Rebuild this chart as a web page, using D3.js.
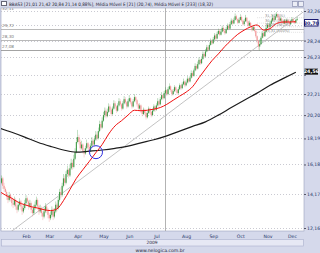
<!DOCTYPE html>
<html>
<head>
<meta charset="utf-8">
<script src="https://cdn.jsdelivr.net/npm/d3@7"></script>
<style>
  body { margin: 0; background: #d5d9eb; }
  svg { display: block; font-family: "DejaVu Sans", sans-serif; }
</style>
</head>
<body>
<svg id="chart" width="320" height="253"></svg>
<script>
// daily closes, highs and lows, Jan 2009 .. Dec 2009 (trading day index)
const closes = [
  14.6, 14.9, 15.2, 14.7, 14.5, 14.3, 14.0, 13.8, 14.1, 13.9, 13.6, 13.5, 13.8, 13.4, 13.2, 13.5, 13.7, 13.4, 13.1, 13.3,
  13.6, 13.9, 13.7, 13.4, 13.6, 13.2, 13.0, 13.3, 13.5, 13.8, 13.4, 13.1, 13.3, 13.0, 12.8, 13.1, 13.4, 13.2, 12.9, 12.7,
  12.9, 13.2, 12.8, 13.1, 13.5, 13.3, 13.8, 14.3, 14.1, 14.7, 15.2, 14.9, 15.5, 15.8, 15.4, 15.9, 16.3, 16.0, 16.6, 17.1,
  17.9, 18.3, 17.9, 17.4, 17.7, 17.2, 17.0, 17.4, 17.8, 17.5, 17.2, 17.6, 18.0, 17.7, 18.1, 18.5, 18.2, 18.8, 19.4, 19.1,
  19.7, 20.2, 20.6, 20.1, 20.5, 21.0, 20.7, 20.3, 20.8, 21.3, 21.0, 20.6, 21.1, 21.5, 21.2, 20.8, 21.3, 21.7, 21.4, 21.0,
  21.5, 21.8, 21.4, 21.0, 21.5, 21.9, 21.6, 21.2, 20.8, 21.1, 20.6, 20.3, 20.7, 20.4, 20.0, 20.4, 20.8, 20.5, 20.2, 20.6,
  21.0, 20.7, 21.1, 21.5, 21.2, 21.7, 22.1, 21.8, 22.3, 22.6, 22.2, 22.7, 23.0, 22.6, 22.2, 22.5, 22.9, 22.6, 22.3, 22.7,
  23.1, 22.8, 23.2, 23.5, 23.1, 23.4, 23.8, 23.5, 23.9, 24.4, 24.1, 24.7, 25.2, 24.9, 25.4, 25.9, 25.5, 26.0, 26.6, 26.3,
  26.9, 27.4, 27.1, 27.7, 28.2, 27.9, 28.4, 28.9, 28.5, 29.1, 29.5, 29.0, 29.4, 29.9, 29.5, 29.2, 29.7, 30.2, 29.8, 30.4,
  30.9, 30.5, 31.0, 31.5, 31.1, 30.6, 31.0, 31.4, 30.9, 30.4, 30.8, 31.3, 30.8, 30.2, 30.6, 30.1, 29.6, 30.0, 29.5, 28.8,
  28.2, 27.5, 27.8, 28.6, 29.2, 28.8, 29.4, 29.9, 30.3, 30.0, 30.5, 30.9, 31.3, 31.0, 31.5, 31.8, 31.4, 30.9, 31.2, 30.8,
  30.5, 30.9, 30.6, 31.0, 30.7, 30.4, 30.8, 31.1, 30.8, 30.6, 31.01, 31.14
];
const highs = [
  14.8, 15.1, 15.4, 15.3, 14.9, 14.6, 14.4, 14.1, 14.3, 14.2, 14.0, 13.8, 14.0, 13.9, 13.5, 13.7, 13.9, 13.8, 13.5, 13.5,
  13.8, 14.1, 14.0, 13.8, 13.8, 13.7, 13.3, 13.5, 13.7, 14.0, 13.9, 13.5, 13.5, 13.4, 13.1, 13.3, 13.6, 13.5, 13.3, 13.0,
  13.1, 13.4, 13.3, 13.3, 13.7, 13.6, 14.0, 14.5, 14.6, 14.9, 15.5, 15.4, 15.7, 16.1, 15.9, 16.2, 16.6, 16.5, 16.9, 17.4,
  18.3, 18.9, 18.5, 18.1, 18.0, 17.8, 17.4, 17.6, 18.1, 17.9, 17.7, 17.8, 18.3, 18.2, 18.4, 18.8, 18.7, 19.1, 19.7, 19.6,
  20.0, 20.5, 20.9, 20.8, 20.8, 21.3, 21.2, 20.9, 21.0, 21.6, 21.5, 21.1, 21.3, 21.8, 21.7, 21.3, 21.5, 22.0, 21.9, 21.5,
  21.7, 22.1, 21.9, 21.5, 21.7, 22.2, 22.0, 21.7, 21.3, 21.3, 21.2, 20.7, 20.9, 20.8, 20.5, 20.6, 21.0, 20.9, 20.6, 20.8,
  21.2, 21.1, 21.3, 21.8, 21.6, 21.9, 22.4, 22.2, 22.5, 22.9, 22.7, 22.9, 23.3, 23.1, 22.7, 22.7, 23.1, 23.0, 22.7, 22.9,
  23.3, 23.2, 23.4, 23.8, 23.6, 23.6, 24.1, 23.9, 24.1, 24.7, 24.6, 24.9, 25.5, 25.4, 25.7, 26.2, 26.0, 26.3, 26.9, 26.8,
  27.2, 27.7, 27.6, 28.0, 28.5, 28.4, 28.7, 29.2, 29.1, 29.4, 29.8, 29.7, 29.7, 30.2, 30.1, 29.7, 30.0, 30.5, 30.4, 30.7,
  31.2, 31.1, 31.3, 31.9, 31.7, 31.2, 31.3, 31.8, 31.6, 31.0, 31.1, 31.7, 31.4, 30.9, 30.9, 30.7, 30.2, 30.3, 30.1, 29.6,
  28.9, 28.3, 28.4, 28.8, 29.5, 29.4, 29.6, 30.2, 30.6, 30.5, 30.8, 31.2, 31.7, 31.5, 31.9, 32.1, 31.9, 31.5, 31.5, 31.3,
  31.0, 31.1, 31.0, 31.2, 31.1, 30.8, 31.0, 31.4, 31.2, 30.9, 31.1, 31.42
];
const lows = [
  14.3, 14.5, 14.8, 14.5, 14.3, 14.1, 13.8, 13.6, 13.7, 13.7, 13.4, 13.3, 13.4, 13.2, 13.0, 13.1, 13.4, 13.2, 12.9, 13.0,
  13.2, 13.5, 13.5, 13.2, 13.3, 13.0, 12.8, 12.9, 13.2, 13.4, 13.2, 12.9, 13.0, 12.8, 12.6, 12.7, 13.0, 13.0, 12.7, 12.5,
  12.6, 12.8, 12.6, 12.7, 13.0, 13.1, 13.2, 13.7, 13.9, 14.0, 14.6, 14.7, 14.8, 15.3, 15.2, 15.3, 15.8, 15.8, 15.9, 16.5,
  17.0, 17.8, 17.7, 17.2, 17.3, 17.0, 16.7, 16.9, 17.3, 17.3, 17.0, 17.1, 17.5, 17.5, 17.6, 18.0, 18.0, 18.1, 18.7, 18.9,
  19.0, 19.6, 20.0, 19.9, 20.0, 20.4, 20.5, 20.1, 20.2, 20.7, 20.8, 20.4, 20.5, 21.0, 21.0, 20.6, 20.7, 21.2, 21.2, 20.8,
  20.9, 21.4, 21.2, 20.8, 20.9, 21.4, 21.4, 21.0, 20.6, 20.7, 20.4, 20.1, 20.2, 20.2, 19.8, 19.9, 20.3, 20.3, 20.0, 20.1,
  20.5, 20.5, 20.6, 21.0, 21.0, 21.1, 21.6, 21.6, 21.7, 22.2, 22.0, 22.1, 22.6, 22.4, 22.0, 22.1, 22.4, 22.4, 22.1, 22.2,
  22.6, 22.6, 22.7, 23.1, 22.9, 23.0, 23.3, 23.3, 23.4, 23.8, 23.9, 24.0, 24.6, 24.7, 24.8, 25.3, 25.3, 25.4, 25.9, 26.1,
  26.2, 26.8, 26.9, 27.0, 27.6, 27.7, 27.8, 28.3, 28.3, 28.4, 29.0, 28.8, 28.9, 29.3, 29.3, 29.0, 29.1, 29.6, 29.6, 29.7,
  30.3, 30.3, 30.4, 30.9, 30.9, 30.4, 30.5, 30.9, 30.7, 30.2, 30.3, 30.7, 30.6, 30.0, 30.1, 29.9, 29.4, 29.5, 29.3, 28.6,
  27.9, 27.1, 27.0, 27.7, 28.5, 28.6, 28.7, 29.3, 29.8, 29.8, 29.9, 30.4, 30.8, 30.8, 30.9, 31.3, 31.2, 30.7, 30.8, 30.6,
  30.3, 30.4, 30.4, 30.5, 30.5, 30.2, 30.3, 30.7, 30.6, 30.4, 30.5, 30.84
];

// EMA 21 read every 5 trading days, EMA 233 read every 10
const ema21Idx = d3.range(0, 231, 5);
const ema21 = [14.35, 14.1, 13.9, 13.65, 13.5, 13.38, 13.3, 13.2, 13.15, 13.25, 13.75, 14.45, 15.2, 15.8, 16.4, 17.05,
  17.7, 18.55, 19.25, 19.7, 20.2, 20.65, 20.6, 20.65, 20.75, 20.9, 21.2, 21.6, 22.0, 22.4, 22.95, 23.9, 24.85, 25.8,
  26.6, 27.5, 28.3, 29.05, 29.6, 30.05, 30.3, 29.6, 29.8, 30.5, 30.7, 30.7, 30.74];
const ema233Idx = d3.range(0, 231, 10);
const ema233 = [19.08, 18.7, 18.3, 17.88, 17.55, 17.27, 17.1, 17.18, 17.27, 17.4, 17.57, 17.83, 18.08, 18.4, 18.8,
  19.2, 19.6, 20.2, 20.9, 21.6, 22.3, 23.1, 23.8, 24.5];

const months = ["Feb", "Mar", "Apr", "May", "Jun", "Jul", "Aug", "Sep", "Oct", "Nov", "Dec"];
const monthStart = [21, 39, 61, 81, 101, 122, 145, 166, 187, 208, 227];
const yTicks = [12.16, 14.17, 16.18, 18.19, 20.20, 22.21, 24.22, 26.23, 28.24, 30.25, 32.26];
const hiddenTicks = [24.22, 30.25]; // covered by the value boxes
const fibLevels = [32.11, 29.72, 28.30, 27.08];
const fibShort = [["31,30 (0%)", 31.30], ["30,55 (23,6%)", 30.55], ["30,09 (38,2%)", 30.05], ["29,31 (100%)", 29.31]];
const trendLine = [[8.6, 11.92], [235.6, 32.1]];
const crossMark = [75.2, 17.1];
const cursorIdx = 129;

const fmt = (v) => v.toFixed(2).replace(".", ",");

const svg = d3.select("#chart");
const plot = { left: 1, right: 304, top: 8, bottom: 231 };

const x = d3.scaleLinear().domain([0, 235]).range([-1.1, 302.3]);
const y = d3.scaleLog().domain([12.16, 32.26]).range([228, 11]);

// header
svg.append("rect").attr("x", 1.5).attr("y", 1.5).attr("width", 5).attr("height", 4)
  .attr("fill", "#fff").attr("stroke", "#667");
svg.append("text").attr("x", 9).attr("y", 5.6).attr("font-size", 4.6).attr("fill", "#223")
  .attr("textLength", 204).attr("lengthAdjust", "spacingAndGlyphs")
  .text("BBAS3 [21,01  21,42  20,84  21,14  0,88%], Média Móvel E [21] (20,74), Média Móvel E [233] (18,32)");
[292, 298].forEach((bx) => {
  svg.append("rect").attr("x", bx + 0.5).attr("y", 1.5).attr("width", 5).attr("height", 5)
    .attr("fill", "#eceef6").attr("stroke", "#8a90b0").attr("stroke-width", 0.7);
});

// plot background
svg.append("rect").attr("x", plot.left).attr("y", plot.top)
  .attr("width", plot.right - plot.left).attr("height", plot.bottom - plot.top)
  .attr("fill", "#fff").attr("stroke", "#9aa0bb").attr("stroke-width", 0.6);

svg.append("clipPath").attr("id", "clip").append("rect")
  .attr("x", plot.left).attr("y", plot.top)
  .attr("width", plot.right - plot.left).attr("height", plot.bottom - plot.top);

const g = svg.append("g").attr("clip-path", "url(#clip)");

// dotted grid
g.append("g").selectAll("line").data(yTicks).join("line")
  .attr("x1", plot.left).attr("x2", plot.right)
  .attr("y1", (d) => Math.round(y(d)) + 0.5).attr("y2", (d) => Math.round(y(d)) + 0.5)
  .attr("stroke", "#bcbcc6").attr("stroke-width", 0.8).attr("stroke-dasharray", "1,2");

// fibonacci lines
g.append("g").selectAll("line").data(fibLevels.slice(1)).join("line")
  .attr("x1", plot.left).attr("x2", plot.right)
  .attr("y1", (d) => Math.round(y(d)) + 0.5).attr("y2", (d) => Math.round(y(d)) + 0.5)
  .attr("stroke", (d, i) => (i === 2 ? "#8c8c8c" : "#a8a8a8")).attr("stroke-width", 0.8);
g.append("g").selectAll("text").data(fibLevels).join("text")
  .attr("x", 2).attr("y", (d) => y(d) - 2)
  .attr("font-size", 4.2).attr("fill", "#777").text(fmt);

g.append("g").selectAll("line").data(fibShort).join("line")
  .attr("x1", x(200)).attr("x2", plot.right)
  .attr("y1", (d) => y(d[1])).attr("y2", (d) => y(d[1]))
  .attr("stroke", "#c4c4c4").attr("stroke-width", 0.5).attr("stroke-dasharray", "1,1");
g.append("g").selectAll("text").data(fibShort).join("text")
  .attr("x", 265).attr("y", (d) => y(d[1]) - 0.8)
  .attr("font-size", 3.6).attr("fill", "#888").text((d) => d[0]);

// cursor line
g.append("line").attr("x1", Math.round(x(cursorIdx)) + 0.5).attr("x2", Math.round(x(cursorIdx)) + 0.5)
  .attr("y1", plot.top).attr("y2", plot.bottom).attr("stroke", "#a0a0a0").attr("stroke-width", 0.8);

// trend line
g.append("line")
  .attr("x1", x(trendLine[0][0])).attr("y1", y(trendLine[0][1]))
  .attr("x2", x(trendLine[1][0])).attr("y2", y(trendLine[1][1]))
  .attr("stroke", "#b4b4b4").attr("stroke-width", 0.8);

// candles
const candles = closes.map((c, i) => ({
  i, close: c, open: i === 0 ? c : closes[i - 1], high: highs[i], low: lows[i],
}));
const up = "#3f9a46", down = "#f29494";
const cg = g.append("g");
cg.selectAll("line").data(candles).join("line")
  .attr("x1", (d) => x(d.i)).attr("x2", (d) => x(d.i))
  .attr("y1", (d) => y(d.high)).attr("y2", (d) => y(d.low))
  .attr("stroke", (d) => (d.close >= d.open ? up : down)).attr("stroke-width", 0.6).attr("opacity", 0.6);
cg.selectAll("rect").data(candles).join("rect")
  .attr("x", (d) => x(d.i) - 0.55).attr("width", 1.1)
  .attr("y", (d) => y(Math.max(d.open, d.close)))
  .attr("height", (d) => Math.max(0.6, Math.abs(y(d.open) - y(d.close))))
  .attr("fill", (d) => (d.close >= d.open ? up : down));

// moving averages
const line = d3.line().x((d) => x(d[0])).y((d) => y(d[1])).curve(d3.curveMonotoneX);
g.append("path").datum(ema233Idx.map((k, j) => [k, ema233[j]]))
  .attr("d", line).attr("fill", "none").attr("stroke", "#1c1c1c").attr("stroke-width", 1.2);
g.append("path").datum(ema21Idx.map((k, j) => [k, ema21[j]]))
  .attr("d", line).attr("fill", "none").attr("stroke", "#f01010").attr("stroke-width", 1);

// cross marker
g.append("circle").attr("cx", x(crossMark[0])).attr("cy", y(crossMark[1])).attr("r", 6.5)
  .attr("fill", "none").attr("stroke", "#2b2bdf").attr("stroke-width", 1);

// right price axis
const yAxis = svg.append("g").attr("transform", `translate(${plot.right},0)`)
  .call(d3.axisRight(y).tickValues(yTicks)
    .tickFormat((d) => (hiddenTicks.includes(d) ? "" : fmt(d))).tickSize(2));
yAxis.select(".domain").remove();
yAxis.selectAll("line").attr("stroke", "#556");
yAxis.selectAll("text").attr("font-size", 4.6).attr("fill", "#223366").attr("x", 3)
  .attr("font-family", "DejaVu Sans");

// value boxes
svg.append("rect").attr("x", 304.5).attr("y", 19.5).attr("width", 13.5).attr("height", 6.5)
  .attr("fill", "#fff").attr("stroke", "#1a1a70").attr("stroke-width", 1);
svg.append("text").attr("x", 311.3).attr("y", 24.7).attr("text-anchor", "middle")
  .attr("font-size", 4.8).attr("font-weight", "bold").attr("fill", "#1a1a70").text("30,70");
svg.append("rect").attr("x", 304.5).attr("y", y(24.56) - 3).attr("width", 13.5).attr("height", 6)
  .attr("fill", "#111");
svg.append("text").attr("x", 311.3).attr("y", y(24.56) + 1.8).attr("text-anchor", "middle")
  .attr("font-size", 4.8).attr("font-weight", "bold").attr("fill", "#fff").text("24,56");

// month axis
const xAxis = svg.append("g").attr("transform", `translate(0,${plot.bottom})`)
  .call(d3.axisBottom(x).tickValues(monthStart).tickFormat((d, i) => months[i]).tickSize(0));
xAxis.select(".domain").remove();
xAxis.selectAll("text").attr("font-size", 4.6).attr("fill", "#223366").attr("dy", 3.6)
  .attr("font-family", "DejaVu Sans");

// year bar and footer
svg.append("rect").attr("x", 1.5).attr("y", 239.5).attr("width", 302).attr("height", 6.5)
  .attr("fill", "#e6e8f4").attr("stroke", "#aab0cc").attr("stroke-width", 0.6);
svg.append("text").attr("x", 152).attr("y", 244.4).attr("text-anchor", "middle")
  .attr("font-size", 4.4).attr("fill", "#223").text("2009");
svg.append("text").attr("x", 160).attr("y", 251.6).attr("text-anchor", "middle")
  .attr("font-size", 4.6).attr("fill", "#223").text("www.nelogica.com.br");
</script>
</body>
</html>
